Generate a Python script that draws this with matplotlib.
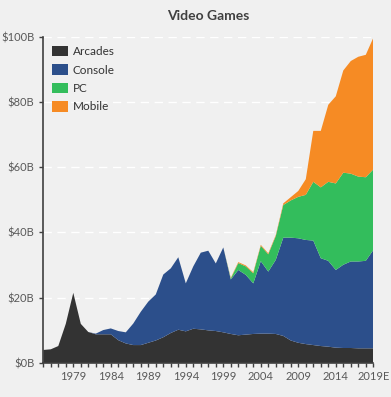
import matplotlib.pyplot as plt
import numpy as np

years = list(range(1975, 2020))

arcades = [4.0, 4.2, 5.2, 12.0, 21.5, 12.0, 9.5, 8.8, 8.8, 8.8,
           7.0, 6.0, 5.5, 5.5, 6.2, 6.9, 7.9, 9.2, 10.2, 9.7,
           10.5, 10.3, 10.0, 9.8, 9.4, 8.9, 8.5, 8.7, 8.9, 9.0,
           9.0, 8.9, 8.3, 6.9, 6.2, 5.8, 5.5, 5.2, 5.0, 4.7,
           4.6, 4.6, 4.5, 4.5, 4.5]
console = [0, 0, 0, 0, 0, 0, 0, 0.2, 1.3, 1.8,
           2.8, 3.4, 6.6, 10.2, 12.6, 14.1, 19.2, 19.8, 22.2, 14.7,
           19.1, 23.5, 24.4, 20.7, 26.0, 16.7, 20.0, 18.3, 15.5, 22.2,
           19.0, 22.7, 30.1, 31.5, 32.0, 31.9, 32.0, 26.9, 26.3, 23.8,
           25.5, 26.5, 26.6, 26.8, 30.1]
pc = [0] * 25 + [0.3, 2.1, 2.6, 3.1, 4.7, 5.3, 7.3, 10.0, 11.4, 12.7,
                 13.8, 18.0, 21.7, 24.2, 26.5, 28.2, 26.9, 26.0, 25.6, 24.7]
mobile = [0] * 25 + [0.2, 0.3, 0.3, 0.3, 0.3, 0.3, 0.3, 0.5, 1.0, 1.8,
                     4.8, 15.6, 17.3, 23.6, 26.7, 31.3, 34.5, 36.7, 37.5, 40.3]

labels = ['Arcades', 'Console', 'PC', 'Mobile']
colores = ['#333333', '#2c4f8b', '#33bd5c', '#f68b24']

plt.rcParams['font.family'] = ['Lato', 'DejaVu Sans']
bg = '#f0f0f0'
gris = '#595959'

fig = plt.figure(figsize=(3.91, 3.97), dpi=100, facecolor=bg)
ax = fig.add_axes([0.1107, 0.0856, 0.8440, 0.8224], facecolor=bg)

ax.stackplot(years, arcades, console, pc, mobile, colors=colores, labels=labels, zorder=2)

ax.set_xlim(1975, 2019)
ax.set_ylim(0, 100)

# grid punteado blanco
ax.set_yticks([0, 20, 40, 60, 80, 100])
ax.set_yticklabels([f'${v}B' for v in [0, 20, 40, 60, 80, 100]])
ax.yaxis.grid(True, color='white', linestyle=(0, (6, 4)), linewidth=1.0, zorder=1)
ax.set_axisbelow(True)

xt = list(range(1979, 2020, 5))
ax.set_xticks(xt)
ax.set_xticklabels([str(y) if y != 2019 else '2019E' for y in xt])
ax.set_xticks(years, minor=True)

for s in ['top', 'right']:
    ax.spines[s].set_visible(False)
for s in ['left', 'bottom']:
    ax.spines[s].set_color('#404040')
    ax.spines[s].set_linewidth(1.2)

ax.tick_params(axis='both', which='both', direction='out', color='#404040',
               labelsize=8, labelcolor=gris, length=3, width=1)
ax.tick_params(axis='x', which='major', pad=3)

ax.set_title('Video Games', fontsize=10, fontweight='bold', color='#404040', pad=12)

ax.legend(loc='upper left', bbox_to_anchor=(0.0, 0.997), frameon=False, fontsize=8.5,
          handlelength=1.4, handleheight=1.0, labelspacing=0.6, handletextpad=0.4,
          borderaxespad=0.3, labelcolor='#333333')

fig.savefig('out.png', dpi=100, facecolor=bg)
